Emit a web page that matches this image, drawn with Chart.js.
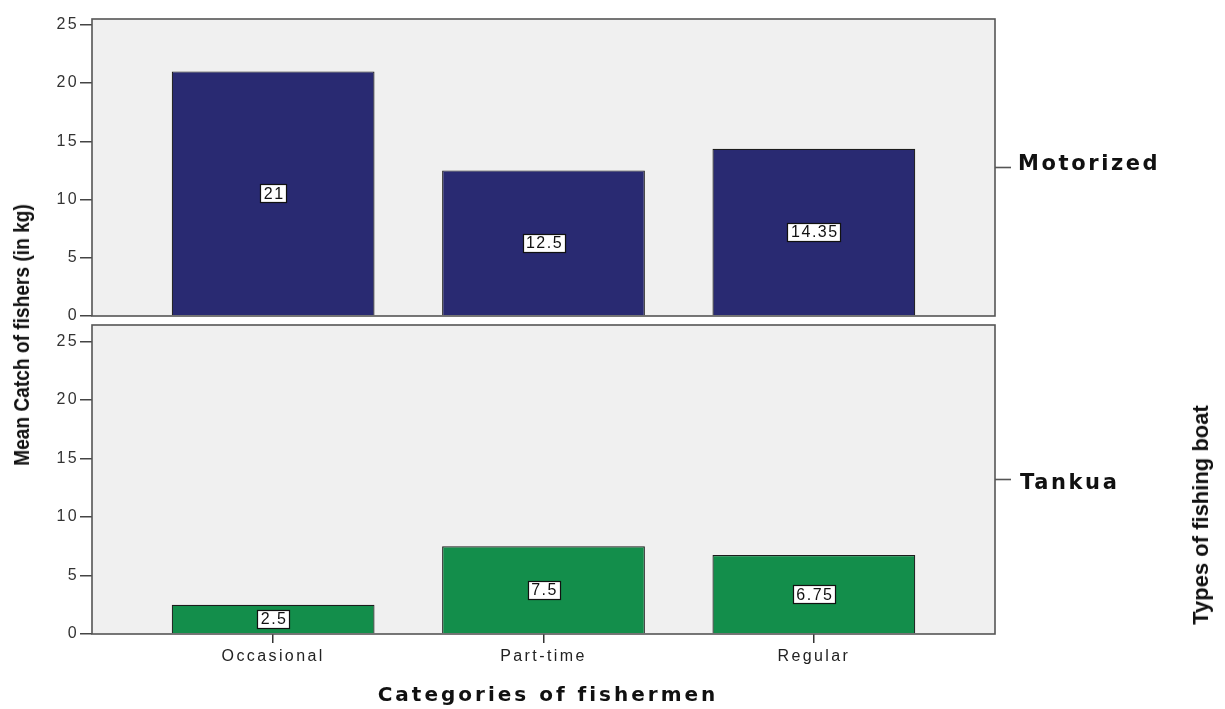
<!DOCTYPE html>
<html>
<head>
<meta charset="utf-8">
<script src="https://cdn.jsdelivr.net/npm/chart.js@4.4.1/dist/chart.umd.min.js"></script>
<style>
  body { margin: 0; background: #fff; }
  #wrap { position: relative; width: 1225px; height: 709px; overflow: hidden; }
  #wrap canvas { position: absolute; left: 0; top: 0; }
  .lbl { position: absolute; white-space: nowrap; color: #111; }
  .ytitle { font: bold 22px "Liberation Sans", Arial, sans-serif; transform: translate(-50%, -50%) rotate(-90deg) scaleX(0.87); }
  .rtitle { font: bold 22px "Liberation Sans", Arial, sans-serif; transform: translate(-50%, -50%) rotate(-90deg); }
  .panel { font: bold 21px "DejaVu Sans", Verdana, sans-serif; letter-spacing: 2.6px; transform: translateY(-50%); }
  .xtitle { font: bold 20px "DejaVu Sans", Verdana, sans-serif; letter-spacing: 3px; transform: translate(-50%, -50%); }
</style>
</head>
<body>
<div id="wrap">
  <canvas id="top-chart" width="1225" height="709"></canvas>
  <canvas id="bottom-chart" width="1225" height="709"></canvas>
  <div class="lbl ytitle" style="left:22px; top:335px;">Mean Catch of fishers (in kg)</div>
  <div class="lbl rtitle" style="left:1201px; top:515px;">Types of fishing boat</div>
  <div class="lbl xtitle" style="left:548px; top:694px;">Categories of fishermen</div>
  <div class="lbl panel" style="left:1018px; top:163px;">Motorized</div>
  <div class="lbl panel" style="left:1020px; top:482px;">Tankua</div>
</div>
<script>
const categories = ['Occasional', 'Part-time', 'Regular'];
const motorized = [21, 12.5, 14.35];
const tankua = [2.5, 7.5, 6.75];
const yTicks = [0, 5, 10, 15, 20, 25];

const tickFont = { size: 16, family: '"Liberation Sans", Arial, sans-serif' };

// frame, background, value boxes and the little connector on the right
const panelPlugin = {
    id: 'panel',
    beforeDraw(chart){
        const a = chart.chartArea;
        const ctx = chart.ctx;
        ctx.letterSpacing = '2.4px';
        ctx.save();
        ctx.fillStyle = '#F0F0F0';
        ctx.fillRect(a.left, a.top, a.right - a.left, a.bottom - a.top);
        ctx.restore();
    },
    afterDatasetsDraw(chart){
        const ctx = chart.ctx;
        const meta = chart.getDatasetMeta(0);
        const values = chart.data.datasets[0].data;
        ctx.save();
        ctx.letterSpacing = '1.5px';
        ctx.font = '16px "Liberation Sans", Arial, sans-serif';
        ctx.textAlign = 'center';
        ctx.textBaseline = 'middle';
        meta.data.forEach((bar, i) => {
            const text = String(values[i].y);
            const cx = bar.x;
            const cy = (bar.y + bar.base) / 2;
            const w = Math.round(ctx.measureText(text).width + 5);
            const h = 18;
            const x0 = Math.round(cx - w / 2);
            const y0 = Math.round(cy - h / 2);
            ctx.fillStyle = '#fff';
            ctx.fillRect(x0, y0, w, h);
            ctx.strokeStyle = '#111';
            ctx.lineWidth = 1.2;
            ctx.strokeRect(x0 + 0.5, y0 + 0.5, w, h);
            ctx.fillStyle = '#111';
            ctx.fillText(text, cx + 1, cy + 1);
        });
        ctx.restore();
    },
    afterDraw(chart){
        const a = chart.chartArea;
        const ctx = chart.ctx;
        ctx.save();
        ctx.strokeStyle = '#555';
        ctx.lineWidth = 1.6;
        ctx.strokeRect(a.left, a.top, a.right - a.left, a.bottom - a.top);
        const mid = (a.top + a.bottom) / 2;
        ctx.beginPath();
        ctx.moveTo(a.right, mid);
        ctx.lineTo(a.right + 16, mid);
        ctx.stroke();
        ctx.restore();
    }
};

function yScale(max){
    return {
        min: 0,
        max: max,
        afterBuildTicks: s => { s.ticks = yTicks.map(v => ({ value: v })); },
        afterFit: s => { s.width = 40; },
        border: { display: false },
        grid: { drawOnChartArea: false, drawTicks: true, tickLength: 12, color: '#444', lineWidth: 1.5 },
        ticks: { color: '#333', padding: 1, font: tickFont }
    };
}

function xScale(show){
    return {
        type: 'linear',
        offset: false,
        min: -0.67,
        max: categories.length - 0.33,
        display: show,
        afterBuildTicks: s => { s.ticks = categories.map((c, i) => ({ value: i })); },
        afterFit: s => { if(show) s.height = 40; },
        border: { display: false },
        grid: { offset: false, drawOnChartArea: false, drawTicks: true, tickLength: 9, color: '#333', lineWidth: 1.5 },
        ticks: { color: '#222', padding: 4, maxRotation: 0, font: tickFont, callback: v => categories[v] }
    };
}

function barSet(values, color){
    return {
        data: values.map((v, i) => ({ x: i, y: v })),
        backgroundColor: color,
        borderColor: '#1c1c1c',
        borderWidth: 1.2,
        barPercentage: 0.75,
        categoryPercentage: 1
    };
}

new Chart(document.getElementById('top-chart'), {
    type: 'bar',
    data: { datasets: [barSet(motorized, '#292A72')] },
    options: {
        responsive: false,
        animation: false,
        devicePixelRatio: 1,
        layout: { padding: { left: 52, right: 230, top: 19, bottom: 393 } },
        plugins: { legend: { display: false }, tooltip: { enabled: false } },
        scales: { x: xScale(false), y: yScale(25.5) }
    },
    plugins: [panelPlugin]
});

new Chart(document.getElementById('bottom-chart'), {
    type: 'bar',
    data: { datasets: [barSet(tankua, '#138E4B')] },
    options: {
        responsive: false,
        animation: false,
        devicePixelRatio: 1,
        layout: { padding: { left: 52, right: 230, top: 325, bottom: 35 } },
        plugins: { legend: { display: false }, tooltip: { enabled: false } },
        scales: { x: xScale(true), y: yScale(26.4) }
    },
    plugins: [panelPlugin]
});
</script>
</body>
</html>
